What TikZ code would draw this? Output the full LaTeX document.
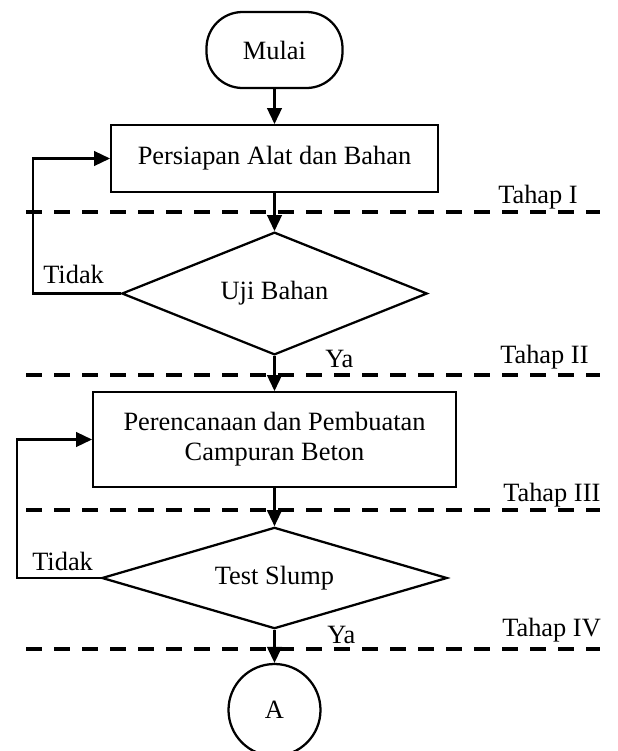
\documentclass[tikz,border=0pt]{standalone}
\usepackage{fontspec}
\setmainfont{Liberation Serif}
\usetikzlibrary{shapes.geometric,arrows.meta}
\begin{document}
\begin{tikzpicture}[x=0.75pt,y=-0.75pt,
  every node/.style={font=\fontsize{19.8pt}{22.5pt}\selectfont},
  box/.style={draw,line width=1.7pt,inner sep=0pt,align=center},
  term/.style={box,rounded corners=27pt},
  decision/.style={draw,line width=1.7pt,diamond,inner sep=0pt},
  conn/.style={draw,line width=1.7pt,circle,inner sep=0pt,minimum size=69pt},
  flow/.style={line width=1.7pt,-{Triangle[length=12pt,width=11pt]}},
  phase/.style={line width=3pt,dash pattern=on 12pt off 9pt},
  lbl/.style={inner sep=0pt,anchor=base west}]
\useasboundingbox (0,0) rectangle (618,751);
% nodes
\node[term,minimum width=102pt,minimum height=57pt] (mulai) at (274.5,50) {Mulai};
\node[box,minimum width=245pt,minimum height=50pt] (r1) at (274.5,158.5) {Persiapan Alat dan Bahan};
\node[decision,aspect=2.48,minimum width=229pt,minimum height=92pt] (d1) at (274.5,293.5) {Uji Bahan};
\node[box,minimum width=272pt,minimum height=71pt] (r2) at (274.5,439.5) {Perencanaan dan Pembuatan\\Campuran Beton};
\node[decision,aspect=3.38,minimum width=259pt,minimum height=76pt] (d2) at (274.5,578) {Test Slump};
\node[conn] (a) at (274.5,710) {A};
% coordinates for loops
\coordinate (l1) at (33,293.5);
\coordinate (l2) at (17,578);
% connectors
\draw[flow] (mulai.south) -- (r1.north);
\draw[flow] (r1.south) -- (d1.north);
\draw[flow] (d1.west) -- (l1) |- (r1.west);
\draw[flow] (d1.south) -- (r2.north);
\draw[flow] (r2.south) -- (d2.north);
\draw[flow] (d2.west) -- (l2) |- (r2.west);
\draw[flow] (d2.south) -- (a.north);
% phase lines
\draw[phase] (26,212) -- (600,212);
\draw[phase] (26,375) -- (600,375);
\draw[phase] (26,510) -- (600,510);
\draw[phase] (26,649) -- (600,649);
% labels
\node[lbl] (t1) at (43,283) {Tidak};
\node[lbl] (t2) at (32,570) {Tidak};
\node[lbl] (y1) at (325,367) {Ya};
\node[lbl] (y2) at (327,643) {Ya};
\node[lbl] (p1) at (498,203) {Tahap I};
\node[lbl] (p2) at (500,363) {Tahap II};
\node[lbl] (p3) at (503,501) {Tahap III};
\node[lbl] (p4) at (502,636) {Tahap IV};
\end{tikzpicture}
\end{document}
